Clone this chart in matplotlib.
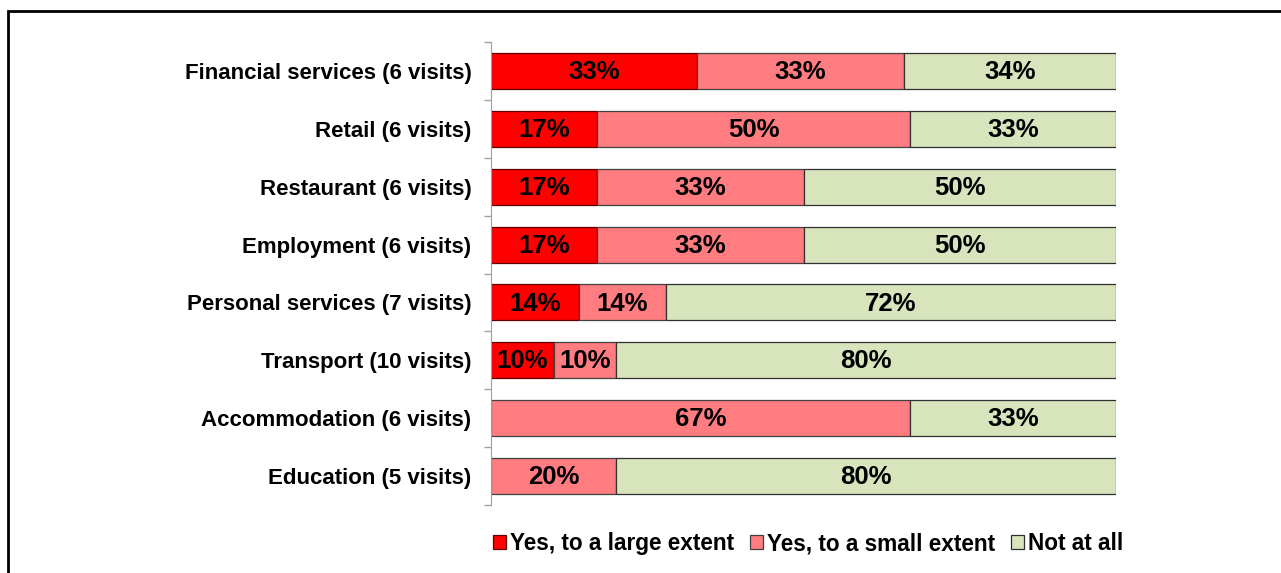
import matplotlib.pyplot as plt
import numpy as np
from matplotlib.patches import Rectangle

plt.rcParams['font.family'] = ['Liberation Sans', 'DejaVu Sans']
plt.rcParams['font.weight'] = 'bold'

# Survey results per sector (percent of visits)
sectors = ['Financial services (6 visits)', 'Retail (6 visits)', 'Restaurant (6 visits)',
           'Employment (6 visits)', 'Personal services (7 visits)', 'Transport (10 visits)',
           'Accommodation (6 visits)', 'Education (5 visits)']
large_extent = [33, 17, 17, 17, 14, 10, 0, 0]
small_extent = [33, 50, 33, 33, 14, 10, 67, 20]
not_at_all = [34, 33, 50, 50, 72, 80, 33, 80]

series_names = ['Yes, to a large extent', 'Yes, to a small extent', 'Not at all']
colors = ['#FF0000', '#FF7C80', '#D8E4BC']
edges = ['#600000', '#404040', '#303030']

fig = plt.figure(figsize=(12.81, 5.73), dpi=100)
ax = fig.add_axes([491 / 1281, 1 - 505 / 573, 625 / 1281, 463 / 573])

y = np.arange(len(sectors))
left = np.zeros(len(sectors))
for vals, name, col, ec in zip([large_extent, small_extent, not_at_all], series_names, colors, edges):
    vals = np.array(vals, dtype=float)
    bars = ax.barh(y, vals, left=left, height=0.62, color=col, edgecolor=ec,
                   linewidth=0.9, label=name)
    for b, v in zip(bars, vals):
        if v > 0:
            ax.text(b.get_x() + b.get_width() / 2, b.get_y() + b.get_height() / 2 + 0.02,
                    f'{v:.0f}%', ha='center', va='center', fontsize=18.5,
                    fontweight='bold', color='black')
    left += vals

ax.set_xlim(0, 100)
ax.set_ylim(len(sectors) - 0.5, -0.5)
ax.set_yticks(y)
ax.set_yticklabels(sectors, fontsize=16, fontweight='bold')
ax.tick_params(axis='y', which='major', length=0, pad=14)
ax.set_yticks(np.arange(-0.5, len(sectors)), minor=True)
ax.tick_params(axis='y', which='minor', length=5, color='#A0A0A0', width=1)
ax.set_xticks([])
for s in ['top', 'right', 'bottom']:
    ax.spines[s].set_visible(False)
ax.spines['left'].set_color('#A0A0A0')

leg = ax.legend(loc='upper center', bbox_to_anchor=(0.508, -0.015), ncol=3, frameon=False,
                prop={'size': 16.3, 'weight': 'bold'}, handlelength=0.55, handleheight=0.55,
                handletextpad=0.2, columnspacing=0.7)

# Outer frame around the chart area
fig.patches.append(Rectangle((8 / 1281, -0.1), 1.2, 1 - 11 / 573 + 0.1,
                             transform=fig.transFigure, fill=False,
                             edgecolor='black', linewidth=2))

fig.savefig('out.png', dpi=100)
